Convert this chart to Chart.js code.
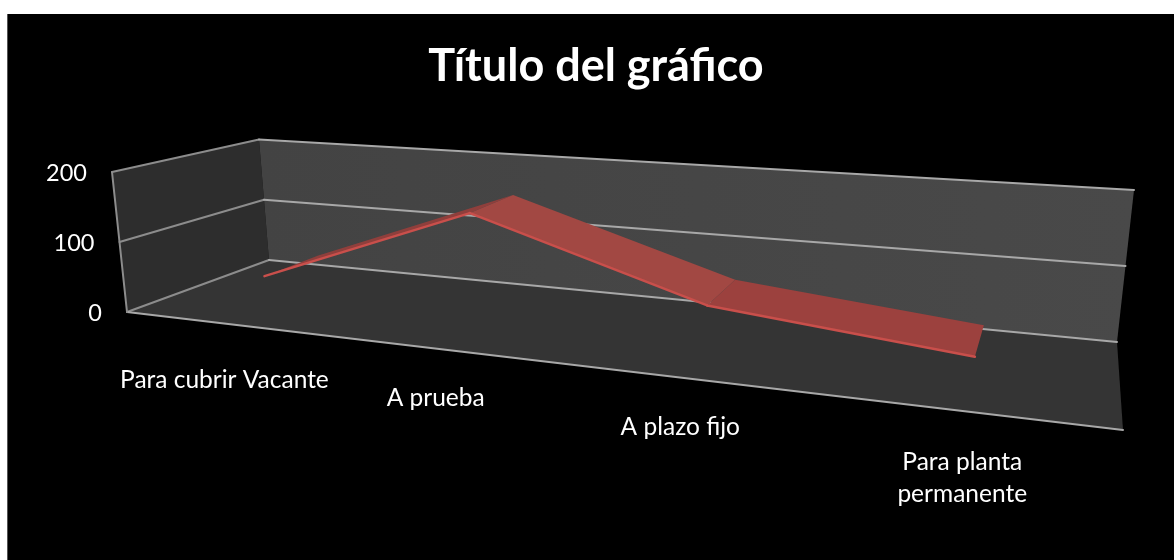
<!DOCTYPE html>
<html><head><meta charset="utf-8">
<style>html,body{margin:0;padding:0;background:#fff}#w{position:absolute;left:0;top:0;width:1174px;height:560px}</style>
<script src="https://cdn.jsdelivr.net/npm/chart.js@4"></script></head>
<body><div id="w"><canvas id="c" width="1174" height="560"></canvas></div>
<script>
const categories = ['Para cubrir Vacante', 'A prueba', 'A plazo fijo', ['Para planta', 'permanente']];
const seriesValues = [43, 158, 63, 33];
const yTicks = [0, 100, 200];
const titleText = 'Título del gráfico';

// Perspective box: [x,y] corners at value 0 and at axis max, with homogeneous depth weights
const box = {
  FL: {b:[127,312], t:[112,172], z:1},
  BL: {b:[269,260], t:[259,139.5], z:1.162},
  FR: {b:[1123,430], t:[1143,246], z:0.759},
  BR: {b:[1117,342], t:[1134,190], z:0.921}
};
function project(u, d, h) {
  const cs = [[box.FL,(1-u)*(1-d)],[box.BL,(1-u)*d],[box.FR,u*(1-d)],[box.BR,u*d]];
  let x=0,y=0,s=0;
  for (const [c,n] of cs) {
    const k=n*c.z;
    x+=k*(c.b[0]+(c.t[0]-c.b[0])*h);
    y+=k*(c.b[1]+(c.t[1]-c.b[1])*h);
    s+=k;
  }
  return [x/s,y/s];
}
function poly(ctx, pts, fill){
  ctx.beginPath(); pts.forEach((p,i)=>i?ctx.lineTo(p[0],p[1]):ctx.moveTo(p[0],p[1])); ctx.closePath();
  ctx.fillStyle=fill; ctx.fill();
}
function seg(ctx,a,b,color,w){
  ctx.beginPath(); ctx.moveTo(a[0],a[1]); ctx.lineTo(b[0],b[1]);
  ctx.strokeStyle=color; ctx.lineWidth=w; ctx.lineCap='round'; ctx.stroke();
}
const ribbonFront = 0.29, ribbonBack = 0.70;
const labelDrop = [57,49,49,51];
const labelNudge = [0,-3,-3,-3];
const FONT = 'Lato, "Open Sans", sans-serif';

const scene3d = {
  id:'scene3d',
  beforeDraw(chart){
    const ctx=chart.ctx;
    ctx.save();
    ctx.fillStyle='#fff'; ctx.fillRect(0,0,1174,560);
    ctx.fillStyle='#555'; ctx.fillRect(7,14,1,546);
    ctx.fillStyle='#000'; ctx.fillRect(8,14,1166,546);
    ctx.restore();
  },
  afterDatasetsDraw(chart){
    const ctx=chart.ctx, X=chart.scales.x, Y=chart.scales.y, A=chart.chartArea;
    const H=v=>(A.bottom-Y.getPixelForValue(v))/(A.bottom-A.top);
    ctx.save();
    // walls and floor
    poly(ctx,[project(0,0,0),project(0,1,0),project(0,1,1),project(0,0,1)],'#2d2d2d');
    const g=ctx.createLinearGradient(260,0,1134,0); g.addColorStop(0,'#434343'); g.addColorStop(1,'#494949');
    poly(ctx,[project(0,1,0),project(1,1,0),project(1,1,1),project(0,1,1)],g);
    poly(ctx,[project(0,0,0),project(1,0,0),project(1,1,0),project(0,1,0)],'#343434');
    // gridlines and axes from the value scale
    const line='#a8a8a8';
    Y.ticks.forEach(t=>{
      const h=H(t.value);
      seg(ctx,project(0,0,h),project(0,1,h),'#8c8c8c',2);
      seg(ctx,project(0,1,h),project(1,1,h),line,2);
    });
    seg(ctx,project(0,0,0),project(1,0,0),line,2);
    seg(ctx,project(0,0,0),project(0,0,H(Y.max)),'#8c8c8c',2);
    // y tick labels
    ctx.fillStyle='#fff'; ctx.font='23.5px '+FONT; ctx.textAlign='right'; ctx.textBaseline='middle';
    Y.ticks.forEach(t=>{
      const p=project(0,0,H(t.value));
      ctx.fillText(t.label,p[0]-25,p[1]+1);
    });
    // ribbon from the dataset's points
    const pts=chart.getDatasetMeta(0).data.map(e=>({u:(e.x-A.left)/(A.right-A.left),h:(A.bottom-e.y)/(A.bottom-A.top)}));
    const fills=['#8f3f3c','#a24843','#9c413e'];
    for(let i=0;i<pts.length-1;i++){
      const a=pts[i],b=pts[i+1];
      poly(ctx,[project(a.u,ribbonFront,a.h),project(b.u,ribbonFront,b.h),project(b.u,ribbonBack,b.h),project(a.u,ribbonBack,a.h)],fills[i]);
    }
    for(let i=0;i<pts.length-1;i++){
      const a=pts[i],b=pts[i+1];
      seg(ctx,project(a.u,ribbonFront,a.h),project(b.u,ribbonFront,b.h),'#c94f4b',2.5);
    }
    // category labels
    ctx.fillStyle='#fff'; ctx.font='24.5px '+FONT; ctx.textAlign='center'; ctx.textBaseline='middle';
    categories.forEach((c,i)=>{
      const u=(X.getPixelForValue(i)-A.left)/(A.right-A.left);
      const p=project(u,0,0);
      const lines=Array.isArray(c)?c:[c];
      lines.forEach((l,j)=>ctx.fillText(l,p[0]+labelNudge[i],p[1]+labelDrop[i]+j*32));
    });
    ctx.restore();
  }
};

new Chart(document.getElementById('c'),{
  type:'line',
  data:{labels:categories,datasets:[{label:'Serie 1',data:seriesValues,showLine:false,pointRadius:0,borderColor:'#c94f4b',backgroundColor:'#a24843'}]},
  options:{
    responsive:false,animation:false,
    layout:{padding:{left:18,top:14,right:0,bottom:0}},
    scales:{
      x:{display:false,offset:true},
      y:{display:false,min:0,max:200,afterBuildTicks(s){s.ticks=yTicks.map(v=>({value:v,label:String(v)}));}}
    },
    plugins:{
      legend:{display:false},tooltip:{enabled:false},
      title:{display:true,text:titleText,color:'#fff',font:{family:FONT,size:45,weight:'bold'},padding:{top:25,bottom:10}}
    }
  },
  plugins:[scene3d]
});
</script></body></html>
